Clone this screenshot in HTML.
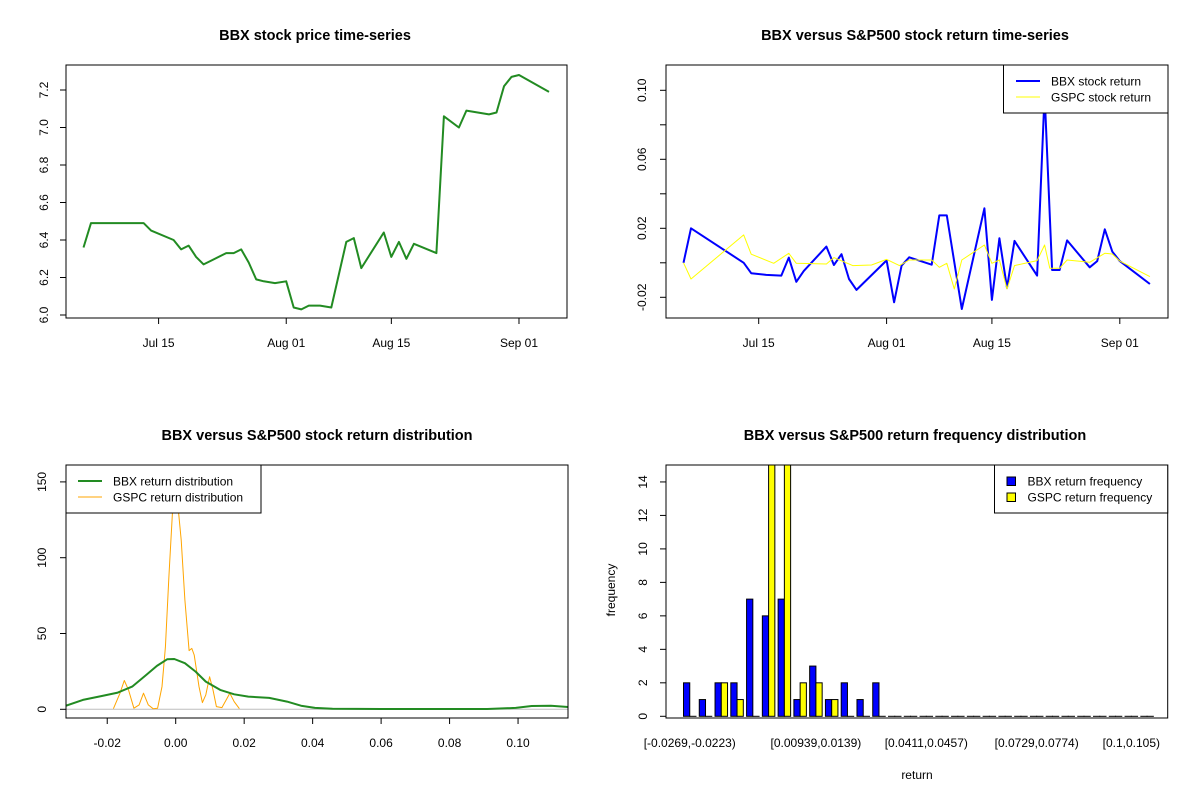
<!DOCTYPE html>
<html><head><meta charset="utf-8"><style>
html,body{margin:0;padding:0;background:#fff;}
svg{display:block;font-family:"Liberation Sans",Arial,sans-serif;}
</style></head><body>
<svg id="c" width="1200" height="800" viewBox="0 0 1200 800" xmlns="http://www.w3.org/2000/svg"></svg>
<script>
// ---- Panel 1 data: BBX price ----
const priceDays = [4,5,12,13,16,17,18,19,20,21,23,24,25,26,27,28,29.5,31,32,33,34,35.5,37,39,40,41,44,45,46,47,48,51,52,54,55,58,59,60,61,62,66];
const priceVals = [6.36,6.49,6.49,6.45,6.40,6.35,6.37,6.31,6.27,6.29,6.33,6.33,6.35,6.28,6.19,6.18,6.17,6.18,6.04,6.03,6.05,6.05,6.04,6.39,6.41,6.25,6.44,6.31,6.39,6.30,6.38,6.33,7.06,7.00,7.09,7.07,7.08,7.22,7.27,7.28,7.19];
const dateTickDays = [14,31,45,62];
const dateTickLabels = ["Jul 15","Aug 01","Aug 15","Sep 01"];
const priceTicks = [6.0,6.2,6.4,6.6,6.8,7.0,7.2];
// ---- Panel 2 data: returns ----
const bbxRetDays = [4,5,12,13,15,17,18,19,20,23,24,25,26,27,31,32,33,34,37,38,39,41,44,45,46,47,48,51,52,53,54,55,58,59,60,61,62,66];
const bbxRetVals = [0,0.020,0,-0.006,-0.007,-0.0074,0.003,-0.011,-0.0047,0.0094,-0.0013,0.005,-0.0094,-0.0157,0.0014,-0.0229,-0.0016,0.0032,-0.0011,0.0275,0.0275,-0.0268,0.0316,-0.0215,0.0142,-0.0145,0.0127,-0.0074,0.098,-0.0042,-0.0042,0.013,-0.0026,0.001,0.0194,0.0065,0.001,-0.0123];
const gspcRetDays = [4,5,12,13,16,18,19,23,24,26.5,29,31,32.7,34,37,38,39,40,41,44,45,46,47,48,51,52,52.7,54,55,58,60,61,62,66];
const gspcRetVals = [0,-0.0094,0.0162,0.005,-0.0003,0.0055,-0.0003,-0.0007,0.003,-0.0016,-0.0013,0.002,-0.0016,0.0016,0.0016,-0.0026,-0.0003,-0.0152,0.0016,0.0103,-0.0003,0.0016,-0.0152,-0.0016,0.0013,0.0103,-0.0032,-0.0032,0.0016,0.0003,0.0055,0.0051,0.001,-0.008];
const retTicks = [-0.02,0,0.02,0.04,0.06,0.08,0.10];
const retTickLabels = ["-0.02","","0.02","","0.06","","0.10"];
// ---- Panel 3 data: densities ----
const bbxDensX = [-0.032,-0.0271,-0.0216,-0.0169,-0.0127,-0.0086,-0.0055,-0.0025,-0.0004,0.0027,0.0058,0.0088,0.0130,0.0171,0.0212,0.0273,0.0325,0.0366,0.0407,0.0458,0.060,0.091,0.0993,0.104,0.1096,0.1147];
const bbxDensY = [2.4,6.2,8.8,11,15,22.7,28.6,33,33.2,30.4,24.9,18.3,12.8,9.9,8.4,7.5,5.1,2.4,0.9,0.4,0.2,0.2,0.9,2.2,2.4,1.5];
const gspcDensX = [-0.0182,-0.0163,-0.015,-0.0138,-0.0122,-0.0107,-0.0094,-0.008,-0.0066,-0.0053,-0.004,-0.003,-0.002,-0.0009,0.0004,0.0016,0.0027,0.0039,0.0047,0.0054,0.0068,0.0078,0.0088,0.0099,0.0109,0.0119,0.0135,0.015,0.0158,0.0171,0.0186];
const gspcDensY = [0.4,10.5,19,12.8,0.7,2.9,10.6,2.9,0.4,0.7,15,41,87.5,131.5,140,111.7,72,38.7,40.2,35.8,15,4.4,9.5,21.5,12.8,1.8,1.1,7.3,10.6,5,0.4];
const densXTicks = [-0.02,0,0.02,0.04,0.06,0.08,0.10];
const densXLabels = ["-0.02","0.00","0.02","0.04","0.06","0.08","0.10"];
const densYTicks = [0,50,100,150];
// ---- Panel 4 data: histogram ----
const bbxFreq = [2,1,2,2,7,6,7,1,3,1,2,1,2,0,0,0,0,0,0,0,0,0,0,0,0,0,0,0,0,0];
const gspcFreq = [0,0,2,1,0,16,17,2,2,1,0,0,0,0,0,0,0,0,0,0,0,0,0,0,0,0,0,0,0,0];
const binLabels = ["[-0.0269,-0.0223)","","","","","","","","[0.00939,0.0139)","","","","","","","[0.0411,0.0457)","","","","","","","[0.0729,0.0774)","","","","","","[0.1,0.105)",""];
const freqTicks = [0,2,4,6,8,10,12,14];

const svg = document.getElementById('c');
const NS = 'http://www.w3.org/2000/svg';
function mk(tag, attrs, parent){
  const e = document.createElementNS(NS, tag);
  for (const k in attrs) e.setAttribute(k, attrs[k]);
  (parent||svg).appendChild(e);
  return e;
}
function txt(s, x, y, opts, parent){
  const e = mk('text', Object.assign({x:x, y:y, 'font-size':12, 'text-anchor':'middle', fill:'#000'}, opts||{}), parent);
  e.textContent = s;
  return e;
}
function title(s, cx, y, name){
  const t = txt(s, cx, y, {'font-size':14.5, 'font-weight':'bold'});
  
  
}
function box(x0,y0,x1,y1,name){
  const r = mk('rect',{x:x0,y:y0,width:x1-x0,height:y1-y0,fill:'none',stroke:'#000','stroke-width':1});
  
  
}
function yAxis(ticks, labels, sy, x0, lx, name){
  const g = mk('g',{});
  
  
  ticks.forEach((v,i)=>{
    const y = sy(v);
    mk('line',{x1:x0-6,x2:x0,y1:y,y2:y,stroke:'#000'},g);
    if (labels[i] !== '') txt(labels[i], lx, y, {transform:`rotate(-90 ${lx} ${y})`}, g);
  });
}
function xAxis(ticks, labels, sx, y0, ly, name){
  const g = mk('g',{});
  
  
  ticks.forEach((v,i)=>{
    const x = sx(v);
    mk('line',{x1:x,x2:x,y1:y0,y2:y0+6,stroke:'#000'},g);
    if (labels[i] !== '') txt(labels[i], x, ly, {}, g);
  });
}
function poly(xs, ys, sx, sy, color, w, name){
  const pts = xs.map((v,i)=> sx(v).toFixed(1)+','+sy(ys[i]).toFixed(1)).join(' ');
  const p = mk('polyline',{points:pts,fill:'none',stroke:color,'stroke-width':w,'stroke-linejoin':'round'});
  
  
  return p;
}

// ===== Panel 1 =====
{
  const L=66,R=567,T=65,B=318;
  const sx = d => 158.6 + (d-14)*7.508;
  const sy = v => 315 - (v-6.0)/1.2*225;
  title('BBX stock price time-series', 315, 40, 'price-chart-title');
  const clip = mk('clipPath',{id:'c1'}); mk('rect',{x:L,y:T,width:R-L,height:B-T},clip);
  const p = poly(priceDays, priceVals, sx, sy, '#228B22', 2, 'bbx-price-line');
  p.setAttribute('clip-path','url(#c1)');
  box(L,T,R,B,'price-plot-frame');
  yAxis(priceTicks, priceTicks.map(v=>v.toFixed(1)), sy, L, 48, 'price-y-axis');
  xAxis(dateTickDays, dateTickLabels, sx, B, 347, 'price-x-axis');
}
// ===== Panel 2 =====
{
  const L=666,R=1168,T=65,B=318;
  const sx = d => 758.7 + (d-14)*7.523;
  const sy = v => 262.8 - v/0.02*34.5;
  title('BBX versus S&P500 stock return time-series', 915, 40, 'return-chart-title');
  const clip = mk('clipPath',{id:'c2'}); mk('rect',{x:L,y:T,width:R-L,height:B-T},clip);
  const b = poly(bbxRetDays, bbxRetVals, sx, sy, '#0000FF', 2, 'bbx-return-line'); b.setAttribute('clip-path','url(#c2)');
  const g = poly(gspcRetDays, gspcRetVals, sx, sy, '#FFFF00', 1, 'gspc-return-line'); g.setAttribute('clip-path','url(#c2)');
  box(L,T,R,B,'return-plot-frame');
  yAxis(retTicks, retTickLabels, sy, L, 646, 'return-y-axis');
  xAxis(dateTickDays, dateTickLabels, sx, B, 347, 'return-x-axis');
  const lg = mk('g',{});  
  mk('rect',{x:1003.5,y:65,width:164.5,height:48,fill:'#fff',stroke:'#000'},lg);
  mk('line',{x1:1016,x2:1040,y1:81,y2:81,stroke:'#0000FF','stroke-width':2},lg);
  mk('line',{x1:1016,x2:1040,y1:97,y2:97,stroke:'#FFFF00','stroke-width':1},lg);
  txt('BBX stock return',1051,85.5,{'text-anchor':'start'},lg);
  txt('GSPC stock return',1051,101.5,{'text-anchor':'start'},lg);
}
// ===== Panel 3 =====
{
  const L=66,R=568,T=465,B=718;
  const sx = v => 175.7 + v/0.02*68.47;
  const sy = v => 709.3 - v/50*75.8;
  title('BBX versus S&P500 stock return distribution', 317, 440, 'density-chart-title');
  const clip = mk('clipPath',{id:'c3'}); mk('rect',{x:L,y:T,width:R-L,height:B-T},clip);
  const z = mk('line',{x1:L,x2:R,y1:sy(0),y2:sy(0),stroke:'#BEBEBE'});  
  const g = poly(gspcDensX, gspcDensY, sx, sy, '#FFA500', 1, 'gspc-density-curve'); g.setAttribute('clip-path','url(#c3)');
  const b = poly(bbxDensX, bbxDensY, sx, sy, '#228B22', 2, 'bbx-density-curve'); b.setAttribute('clip-path','url(#c3)');
  box(L,T,R,B,'density-plot-frame');
  yAxis(densYTicks, densYTicks.map(String), sy, L, 46, 'density-y-axis');
  xAxis(densXTicks, densXLabels, sx, B, 747, 'density-x-axis');
  const lg = mk('g',{});  
  mk('rect',{x:66,y:465,width:195,height:48,fill:'#fff',stroke:'#000'},lg);
  mk('line',{x1:78,x2:102,y1:481,y2:481,stroke:'#228B22','stroke-width':2},lg);
  mk('line',{x1:78,x2:102,y1:497,y2:497,stroke:'#FFA500','stroke-width':1},lg);
  txt('BBX return distribution',113,485.5,{'text-anchor':'start'},lg);
  txt('GSPC return distribution',113,501.5,{'text-anchor':'start'},lg);
}
// ===== Panel 4 =====
{
  const L=666,R=1167.7,T=465,B=718;
  const sy = v => 716.3 - v*16.74;
  const gx = i => 683.5 + i*15.77;
  const bw = 6.25;
  title('BBX versus S&P500 return frequency distribution', 915, 440, 'histogram-chart-title');
  const clip = mk('clipPath',{id:'c4'}); mk('rect',{x:L,y:T,width:R-L,height:B-T},clip);
  const bars = mk('g',{'clip-path':'url(#c4)'});
  
  
  bbxFreq.forEach((v,i)=>{
    const y0 = sy(0), y1 = sy(v);
    const r = mk('rect',{x:gx(i),y:Math.min(y0,y1),width:bw,height:Math.max(0.01,Math.abs(y0-y1)),fill:'#0000FF',stroke:'#000','stroke-width':1},bars);
    
    
  });
  gspcFreq.forEach((v,i)=>{
    const y0 = sy(0), y1 = sy(v);
    const r = mk('rect',{x:gx(i)+bw,y:Math.min(y0,y1),width:bw,height:Math.max(0.01,Math.abs(y0-y1)),fill:'#FFFF00',stroke:'#000','stroke-width':1},bars);
    
    
  });
  box(L,T,R,B,'histogram-plot-frame');
  yAxis(freqTicks, freqTicks.map(String), sy, L, 647, 'histogram-y-axis');
  const xl = mk('g',{});  
  binLabels.forEach((s,i)=>{ if (s) txt(s, gx(i)+bw, 747, {}, xl); });
  const yt = txt('frequency', 615, 590, {transform:'rotate(-90 615 590)'});
   
  const xt = txt('return', 917, 779, {});
   
  const lg = mk('g',{});  
  mk('rect',{x:994.5,y:465,width:173.2,height:48,fill:'#fff',stroke:'#000'},lg);
  mk('rect',{x:1007,y:477,width:8.5,height:8.5,fill:'#0000FF',stroke:'#000'},lg);
  mk('rect',{x:1007,y:493,width:8.5,height:8.5,fill:'#FFFF00',stroke:'#000'},lg);
  txt('BBX return frequency',1027.5,485.5,{'text-anchor':'start'},lg);
  txt('GSPC return frequency',1027.5,501.5,{'text-anchor':'start'},lg);
}
</script>
</body></html>
